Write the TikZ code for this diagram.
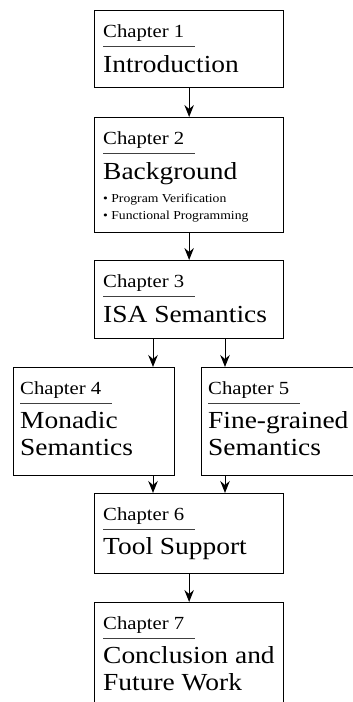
\documentclass[tikz,border=0pt]{standalone}
\usepackage{fontspec}
\setmainfont{Liberation Serif}[FakeStretch=1.12]
\usetikzlibrary{arrows.meta}

\begin{document}
\begin{tikzpicture}[x=1pt,y=-1pt,
  chapbox/.style={draw, line width=1.3pt, rectangle, anchor=north west, inner sep=0pt},
  chaplabel/.style={anchor=base west, inner sep=0pt, font=\fontsize{18.5}{22}\selectfont},
  chaptitle/.style={anchor=base west, inner sep=0pt, font=\fontsize{24.5}{27}\selectfont},
  bulletline/.style={anchor=base west, inner sep=0pt, font=\fontsize{12.2}{17}\selectfont},
  chaprule/.style={line width=0.8pt, black!75},
  flow/.style={line width=1pt, -{Stealth[length=12pt,width=9.5pt,inset=4pt]}}]

\clip (0,0) rectangle (353,702);

% chapter frames
\node[chapbox, minimum width=189pt, minimum height=77pt]  (b1) at (94,10)  {};
\node[chapbox, minimum width=189pt, minimum height=115pt] (b2) at (94,117) {};
\node[chapbox, minimum width=189pt, minimum height=78pt]  (b3) at (94,260) {};
\node[chapbox, minimum width=161pt, minimum height=108pt] (b4) at (13,367) {};
\node[chapbox, minimum width=170pt, minimum height=108pt] (b5) at (201,367) {};
\node[chapbox, minimum width=189pt, minimum height=80pt]  (b6) at (94,493) {};
\node[chapbox, minimum width=189pt, minimum height=130pt] (b7) at (94,602) {};

% chapter numbers, rules and titles
\foreach \b/\n/\dx in {b1/1/9pt, b2/2/9pt, b3/3/9pt, b4/4/7pt, b5/5/7pt, b6/6/9pt, b7/7/9pt}{
  \node[chaplabel] (c\n) at ([xshift=\dx,yshift=-27pt]\b.north west) {Chapter \n};
  \draw[chaprule] ([yshift=-9pt]c\n.base west) -- ++(92,0);
}

\node[chaptitle] (t1) at ([yshift=-35pt]c1.base west) {Introduction};
\node[chaptitle] (t2) at ([yshift=-35pt]c2.base west) {Background};
\node[bulletline] (p1) at ([yshift=-23pt]t2.base west) {\textbullet\ Program Verification};
\node[bulletline] (p2) at ([yshift=-17pt]p1.base west) {\textbullet\ Functional Programming};
\node[chaptitle] (t3) at ([yshift=-35pt]c3.base west) {ISA Semantics};
\node[chaptitle] (t4) at ([yshift=-34pt]c4.base west) {\begin{tabular}[t]{@{}l@{}}Monadic\\Semantics\end{tabular}};
\node[chaptitle] (t5) at ([yshift=-34pt]c5.base west) {\begin{tabular}[t]{@{}l@{}}Fine-grained\\Semantics\end{tabular}};
\node[chaptitle] (t6) at ([yshift=-34pt]c6.base west) {Tool Support};
\node[chaptitle] (t7) at ([yshift=-34pt]c7.base west) {\begin{tabular}[t]{@{}l@{}}Conclusion and\\Future Work\end{tabular}};

% dependencies between chapters
\coordinate (xl) at (153,0);
\coordinate (xr) at (225,0);
\draw[flow] (b1.south) -- (b2.north);
\draw[flow] (b2.south) -- (b3.north);
\draw[flow] (xl |- b3.south) -- (xl |- b4.north);
\draw[flow] (xr |- b3.south) -- (xr |- b5.north);
\draw[flow] (xl |- b4.south) -- (xl |- b6.north);
\draw[flow] (xr |- b5.south) -- (xr |- b6.north);
\draw[flow] (b6.south) -- (b7.north);
\end{tikzpicture}
\end{document}
